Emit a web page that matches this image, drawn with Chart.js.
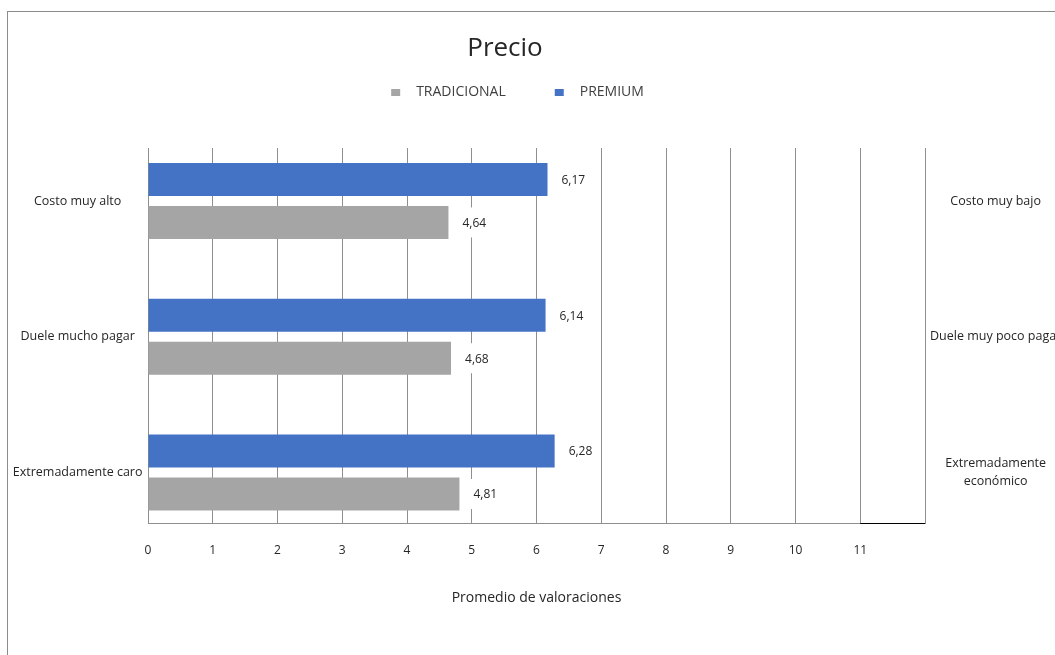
<!DOCTYPE html>
<html lang="es">
<head>
<meta charset="utf-8">
<title>Precio</title>
<script src="https://cdn.jsdelivr.net/npm/chart.js@4.4.1/dist/chart.umd.min.js"></script>
<style>
    html, body { margin: 0; padding: 0; background: #fff; overflow: hidden; }
    #marco {
        position: absolute; left: 7px; top: 11px;
        border-left: 1px solid #8c8c8c; border-top: 1px solid #8c8c8c;
        width: 1100px; height: 660px;
    }
    canvas { display: block; }
</style>
</head>
<body>
<div id="marco"><canvas id="graficoPrecio" width="1100" height="660"></canvas></div>
<script>
// Datos del gráfico
const atributos = ['Costo muy alto', 'Duele mucho pagar', 'Extremadamente caro'];
const opuestos = ['Costo muy bajo', 'Duele muy poco pagar', ['Extremadamente', 'económico']];
const premium = [6.17, 6.14, 6.28];
const tradicional = [4.64, 4.68, 4.81];
const valoresX = [0, 1, 2, 3, 4, 5, 6, 7, 8, 9, 10, 11, 12];
const etiquetasX = ['0', '1', '2', '3', '4', '5', '6', '7', '8', '9', '10', '11', ''];

const fuente = "'Open Sans', sans-serif";
Chart.defaults.font.family = fuente;
Chart.defaults.color = '#262626';

const colorGrilla = '#8f8f8f';
const posiciones = atributos.map((_, i) => i);

// cuadrito de la leyenda con espacio antes (para separar los items)
function cuadro(color) {
    const c = document.createElement('canvas');
    c.width = 57;
    c.height = 7;
    const g = c.getContext('2d');
    g.fillStyle = color;
    g.fillRect(39, 0, 9, 7);
    return c;
}
const cuadros = [cuadro('#4472C4'), cuadro('#A5A5A5')];

// Etiquetas de valor con fondo blanco
const etiquetasValor = {
    id: 'etiquetasValor',
    afterDatasetsDraw(chart) {
        const ctx = chart.ctx;
        ctx.save();
        ctx.font = '12px ' + fuente;
        ctx.textBaseline = 'middle';
        chart.data.datasets.forEach((ds, i) => {
            chart.getDatasetMeta(i).data.forEach((barra, j) => {
                const texto = ds.data[j].x.toFixed(2).replace('.', ',');
                const ancho = ctx.measureText(texto).width;
                const x0 = barra.x + 8;
                ctx.fillStyle = '#ffffff';
                ctx.fillRect(x0, barra.y - 15, ancho + 12, 30);
                ctx.fillStyle = '#262626';
                ctx.fillText(texto, x0 + 6, barra.y + 1);
            });
        });
        ctx.restore();
    }
};

// Ubica el título y la leyenda como en el original
const posicionEncabezado = {
    id: 'posicionEncabezado',
    afterLayout(chart) {
        const t = chart.titleBlock;
        const altoT = t.bottom - t.top;
        t.left = 497 - 250; t.right = 497 + 250;
        t.top = 21; t.bottom = t.top + altoT;

        const l = chart.legend;
        const altoL = l.bottom - l.top;
        const medio = 490;
        l.left = medio - 300; l.right = medio + 300;
        l.top = 63; l.bottom = l.top + altoL;
    }
};

// tramo negro del eje entre 11 y 12
const tramoNegro = {
    id: 'tramoNegro',
    afterDraw(chart) {
        const { ctx, chartArea, scales } = chart;
        const x = scales.x;
        const n = valoresX.length;
        ctx.save();
        ctx.strokeStyle = '#000000';
        ctx.lineWidth = 1;
        ctx.beginPath();
        ctx.moveTo(x.getPixelForValue(valoresX[n - 2]), Math.round(chartArea.bottom) + 0.5);
        ctx.lineTo(x.getPixelForValue(valoresX[n - 1]), Math.round(chartArea.bottom) + 0.5);
        ctx.stroke();
        ctx.restore();
    }
};

const ejeCategorias = (etiquetas, lado, ancho, relleno) => ({
    type: 'linear',
    position: lado,
    reverse: true,
    offset: false,
    min: -0.39,
    max: 2.372,
    afterBuildTicks: (s) => { s.ticks = posiciones.map(v => ({ value: v })); },
    afterFit: (s) => { s.width = ancho; },
    grid: { display: false, offset: false },
    border: { display: false },
    ticks: {
        callback: (v, i) => etiquetas[i],
        crossAlign: 'center',
        padding: relleno,
        color: '#262626',
        font: { size: 12.5, lineHeight: 1.45 }
    }
});

const canvas = document.getElementById('graficoPrecio');

new Chart(canvas, {
    type: 'bar',
    data: {
        datasets: [{
            label: 'PREMIUM',
            data: premium.map((v, i) => ({ x: v, y: posiciones[i] })),
            backgroundColor: '#4472C4',
            categoryPercentage: 0.6335,
            barPercentage: 0.7674
        }, {
            label: 'TRADICIONAL',
            data: tradicional.map((v, i) => ({ x: v, y: posiciones[i] })),
            backgroundColor: '#A5A5A5',
            categoryPercentage: 0.6335,
            barPercentage: 0.7674
        }]
    },
    options: {
        indexAxis: 'y',
        responsive: false,
        animation: false,
        layout: { padding: { top: 70.8, bottom: 63, left: 0, right: 0 } },
        scales: {
            x: {
                type: 'linear',
                min: 0,
                max: 12,
                afterBuildTicks: (s) => { s.ticks = valoresX.map(v => ({ value: v })); },
                afterFit: (s) => { s.height = 86; },
                grid: { color: colorGrilla, drawTicks: false },
                border: { color: colorGrilla },
                ticks: {
                    callback: (v, i) => etiquetasX[i],
                    padding: 20,
                    color: '#262626',
                    font: { size: 12 }
                },
                title: {
                    display: true,
                    text: 'Promedio de valoraciones',
                    color: '#262626',
                    font: { size: 14 },
                    padding: { top: 0, bottom: 3 }
                }
            },
            y: ejeCategorias(atributos, 'left', 140, -2.5),
            y2: ejeCategorias(opuestos, 'right', 183, -3)
        },
        plugins: {
            title: {
                display: true,
                text: 'Precio',
                color: '#262626',
                font: { size: 26, weight: 'normal' },
                padding: { top: 0, bottom: 0 }
            },
            legend: {
                reverse: true,
                labels: {
                    usePointStyle: true,
                    pointStyleWidth: 57,
                    padding: 10,
                    color: '#404040',
                    font: { size: 14 },
                    generateLabels: (chart) =>
                        Chart.defaults.plugins.legend.labels.generateLabels(chart)
                            .map(item => ({ ...item, pointStyle: cuadros[item.datasetIndex] }))
                }
            },
            tooltip: { enabled: false }
        }
    },
    plugins: [etiquetasValor, posicionEncabezado, tramoNegro]
});
</script>
</body>
</html>
